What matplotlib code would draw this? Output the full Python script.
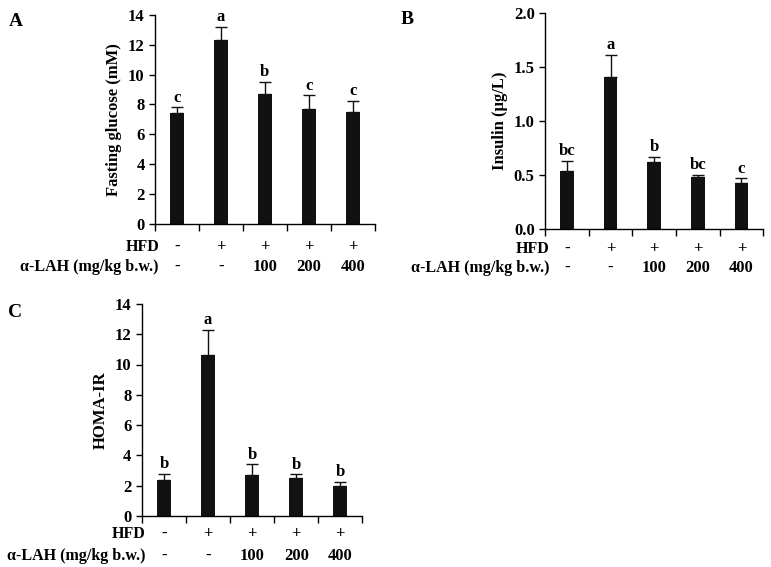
import numpy as np
import matplotlib.pyplot as plt
import matplotlib.transforms as mtransforms

plt.rcParams['font.family'] = ['Liberation Serif', 'DejaVu Serif']
plt.rcParams['font.weight'] = 'bold'

hfd = ["-", "+", "+", "+", "+"]
lah = ["-", "-", "100", "200", "400"]

glucose = [7.4, 12.3, 8.7, 7.7, 7.5]
glucose_err = [0.4, 0.9, 0.8, 0.9, 0.75]
glucose_sig = ["c", "a", "b", "c", "c"]

insulin = [0.54, 1.41, 0.62, 0.48, 0.43]
insulin_err = [0.09, 0.2, 0.05, 0.02, 0.04]
insulin_sig = ["bc", "a", "b", "bc", "c"]

homa = [2.35, 10.6, 2.7, 2.5, 1.95]
homa_err = [0.45, 1.7, 0.7, 0.25, 0.3]
homa_sig = ["b", "a", "b", "b", "b"]

FS = 12


def panel(fig, rect, vals, errs, sig, ylabel, ylim, yticks, fmt, letter, letter_xy, rows_dy):
    ax = fig.add_axes(rect)
    x = np.arange(len(vals))
    ax.bar(x, vals, width=0.31, color="#111111", zorder=2)
    ax.errorbar(x, vals, yerr=[np.zeros(len(vals)), errs], fmt="none",
                ecolor="#111111", elinewidth=1, capsize=4, capthick=1, zorder=1)
    span = ylim[1] - ylim[0]
    for xi, v, e, s in zip(x, vals, errs, sig):
        ax.text(xi, v + e + span * 0.008, s, ha="center", va="bottom",
                fontsize=FS, fontweight="bold")
    ax.set_xlim(-0.5, len(vals) - 0.5)
    ax.set_ylim(*ylim)
    ax.set_yticks(yticks)
    ax.set_yticklabels([fmt.format(t) for t in yticks], fontsize=FS, fontweight="bold")
    ax.set_xticks(np.arange(-0.5, len(vals), 1.0))
    ax.set_xticklabels([])
    ax.tick_params(axis="both", direction="out", length=4, width=1)
    ax.tick_params(axis="x", length=5)
    for s in ["top", "right"]:
        ax.spines[s].set_visible(False)
    for s in ["left", "bottom"]:
        ax.spines[s].set_linewidth(1)
    ax.set_ylabel(ylabel, fontsize=FS, fontweight="bold")

    # treatment rows under the x axis
    trans = mtransforms.blended_transform_factory(ax.transData, ax.transAxes)
    off1 = mtransforms.offset_copy(trans, fig=fig, x=0, y=-rows_dy[0], units="dots")
    off2 = mtransforms.offset_copy(trans, fig=fig, x=0, y=-rows_dy[1], units="dots")
    for xi, h, l in zip(x, hfd, lah):
        ax.text(xi, 0, h, transform=off1, ha="center", va="center",
                fontsize=FS, fontweight="bold")
        ax.text(xi, 0, l, transform=off2, ha="center", va="center",
                fontsize=FS, fontweight="bold")
    lab1 = mtransforms.offset_copy(trans, fig=fig, x=4, y=-rows_dy[0], units="dots")
    lab2 = mtransforms.offset_copy(trans, fig=fig, x=4, y=-rows_dy[1], units="dots")
    ax.text(-0.5, 0, "HFD", transform=lab1, ha="right", va="center",
            fontsize=11.5, fontweight="bold")
    ax.text(-0.5, 0, "α-LAH (mg/kg b.w.)", transform=lab2, ha="right", va="center",
            fontsize=11.5, fontweight="bold")
    fig.text(letter_xy[0], letter_xy[1], letter, fontsize=14, fontweight="bold",
             ha="left", va="center")
    return ax


fig = plt.figure(figsize=(7.71, 5.67), dpi=100)

panel(fig, [0.201, 0.605, 0.285, 0.369], glucose, glucose_err, glucose_sig,
      "Fasting glucose (mM)", (0, 14), np.arange(0, 15, 2), "{:.0f}", "A",
      (0.012, 0.962), (23, 43))
panel(fig, [0.707, 0.596, 0.283, 0.381], insulin, insulin_err, insulin_sig,
      "Insulin (µg/L)", (0, 2.0), np.arange(0, 2.01, 0.5), "{:.1f}", "B",
      (0.52, 0.965), (20, 39))
panel(fig, [0.184, 0.090, 0.286, 0.374], homa, homa_err, homa_sig,
      "HOMA-IR", (0, 14), np.arange(0, 15, 2), "{:.0f}", "C",
      (0.010, 0.448), (18, 40))

fig.savefig("out.png", dpi=100)
